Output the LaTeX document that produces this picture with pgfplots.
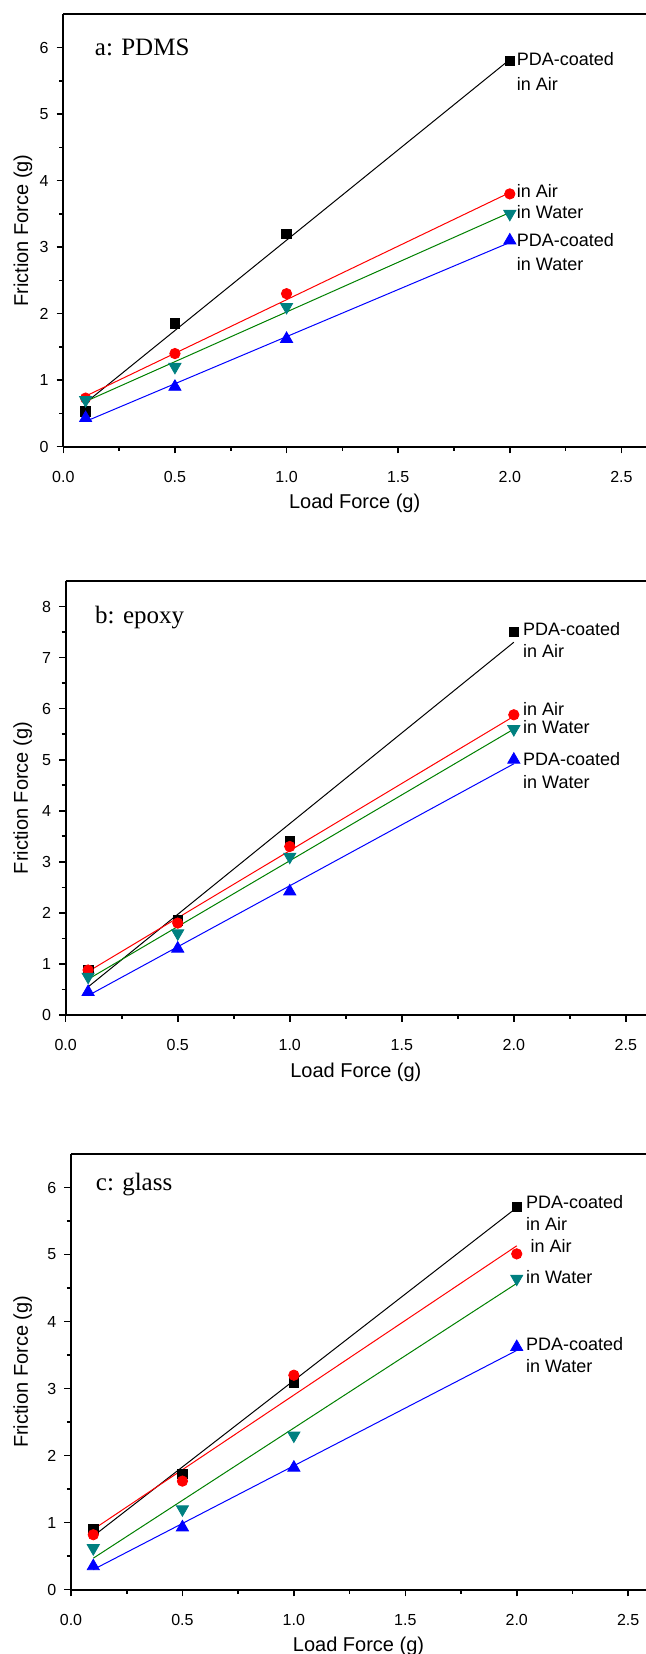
\documentclass[border=0pt]{standalone}
\usepackage{pgfplots}
\pgfplotsset{compat=1.18}
\usepackage{fontspec}
\setmainfont{Liberation Sans}
\newfontfamily\timesf{Liberation Serif}
\definecolor{dkcyan}{RGB}{0,128,128}
\definecolor{fitgreen}{RGB}{0,128,0}

\pgfplotsset{
  panel/.style={
    scale only axis,
    anchor=south west,
    xmin=0, ymin=0,
    axis x line*=bottom,
    axis y line*=left,
    axis line style={line width=1pt,-},
    tick align=outside,
    major tick length=3.3pt,
    minor tick length=2pt,
    every tick/.style={black, line width=0.8pt},
    xtick={0,0.5,...,2.5},
    minor x tick num=1,
    minor y tick num=1,
    x tick label style={/pgf/number format/fixed, /pgf/number format/fixed zerofill,
                        /pgf/number format/precision=1, yshift=-5.5pt},
    y tick label style={xshift=-0.5pt},
    tick label style={font=\fontsize{8}{9}\selectfont},
    /pgf/number format/assume math mode=true,
    label style={font=\fontsize{10}{12}\selectfont},
    xlabel={Load Force (g)},
    ylabel={Friction Force (g)},
    every axis x label/.style={at={([yshift=-28.5pt]axis description cs:0.5,0)}, anchor=center},
    clip=false,
  },
  ylab/.style={every axis y label/.style={at={([xshift=-#1]axis description cs:0,0.5)},
               rotate=90, anchor=base}},
  fit/.style={no marks, line width=0.5pt},
  sq/.style={only marks, mark=square*, mark size=2.4pt, black},
  ci/.style={only marks, mark=*, mark size=2.6pt, red},
  dn/.style={only marks, mark=triangle*, mark size=3.5pt, dkcyan, mark options={rotate=180}},
  up/.style={only marks, mark=triangle*, mark size=3.5pt, blue},
}
\tikzset{
  ann/.style={anchor=west, inner sep=0pt, font=\fontsize{9}{11}\selectfont},
  ttl/.style={anchor=base west, inner sep=0pt, font=\timesf\fontsize{12.5}{14}\selectfont},
}

\begin{document}
\begin{tikzpicture}
\path[use as bounding box] (0,0) rectangle (323pt,827pt);

% a: PDMS
\begin{axis}[panel, ylab=17.6pt, at={(31.65pt,603.65pt)}, width=291.35pt, height=216.2pt,
  xmax=2.61, ymax=6.5, ytick={0,...,6}]
\addplot[fit, black] coordinates {(0.1,0.66) (2.0,5.82)};
\addplot[fit, red] coordinates {(0.1,0.76) (2.0,3.82)};
\addplot[fit, fitgreen] coordinates {(0.1,0.68) (2.0,3.52)};
\addplot[fit, blue] coordinates {(0.1,0.38) (2.0,3.07)};
\addplot[sq] coordinates {(0.1,0.53) (0.5,1.85) (1.0,3.2) (2.0,5.8)};
\addplot[ci] coordinates {(0.1,0.73) (0.5,1.4) (1.0,2.3) (2.0,3.8)};
\addplot[dn] coordinates {(0.1,0.7) (0.5,1.2) (1.0,2.1) (2.0,3.5)};
\addplot[up] coordinates {(0.1,0.43) (0.5,0.9) (1.0,1.62) (2.0,3.1)};
\draw[line width=1pt] (rel axis cs:0,1) -- (rel axis cs:1,1);
\node[ttl] at (axis cs:0.14,5.88) {a: PDMS};
\node[ann] at (axis cs:2.03,5.83) {PDA-coated};
\node[ann] at (axis cs:2.03,5.45) {in Air};
\node[ann] at (axis cs:2.03,3.84) {in Air};
\node[ann] at (axis cs:2.03,3.52) {in Water};
\node[ann] at (axis cs:2.03,3.10) {PDA-coated};
\node[ann] at (axis cs:2.03,2.74) {in Water};
\end{axis}

% b: epoxy
\begin{axis}[panel, ylab=18.9pt, at={(32.85pt,319.5pt)}, width=290.15pt, height=217pt,
  xmax=2.59, ymax=8.5, ytick={0,...,8}]
\addplot[fit, black] coordinates {(0.1,0.55) (2.0,7.3)};
\addplot[fit, red] coordinates {(0.1,0.85) (2.0,5.85)};
\addplot[fit, fitgreen] coordinates {(0.1,0.7) (2.0,5.6)};
\addplot[fit, blue] coordinates {(0.1,0.38) (2.0,4.92)};
\addplot[sq] coordinates {(0.1,0.88) (0.5,1.85) (1.0,3.4) (2.0,7.5)};
\addplot[ci] coordinates {(0.1,0.88) (0.5,1.8) (1.0,3.3) (2.0,5.88)};
\addplot[dn] coordinates {(0.1,0.75) (0.5,1.6) (1.0,3.1) (2.0,5.6)};
\addplot[up] coordinates {(0.1,0.45) (0.5,1.3) (1.0,2.42) (2.0,5.0)};
\draw[line width=1pt] (rel axis cs:0,1) -- (rel axis cs:1,1);
\node[ttl] at (axis cs:0.13,7.67) {b: epoxy};
\node[ann] at (axis cs:2.04,7.56) {PDA-coated};
\node[ann] at (axis cs:2.04,7.12) {in Air};
\node[ann] at (axis cs:2.04,6.00) {in Air};
\node[ann] at (axis cs:2.04,5.64) {in Water};
\node[ann] at (axis cs:2.04,5.01) {PDA-coated};
\node[ann] at (axis cs:2.04,4.57) {in Water};
\end{axis}

% c: glass
\begin{axis}[panel, ylab=21.5pt, at={(35.5pt,32.15pt)}, width=287.5pt, height=217.85pt,
  xmax=2.58, ymax=6.5, ytick={0,...,6}]
\addplot[fit, black] coordinates {(0.1,0.8) (2.0,5.7)};
\addplot[fit, red] coordinates {(0.1,0.9) (2.0,5.13)};
\addplot[fit, fitgreen] coordinates {(0.1,0.47) (2.0,4.57)};
\addplot[fit, blue] coordinates {(0.1,0.3) (2.0,3.57)};
\addplot[sq] coordinates {(0.1,0.9) (0.5,1.73) (1.0,3.09) (2.0,5.71)};
\addplot[ci] coordinates {(0.1,0.82) (0.5,1.62) (1.0,3.2) (2.0,5.01)};
\addplot[dn] coordinates {(0.1,0.62) (0.5,1.2) (1.0,2.3) (2.0,4.64)};
\addplot[up] coordinates {(0.1,0.35) (0.5,0.93) (1.0,1.82) (2.0,3.62)};
\draw[line width=1pt] (rel axis cs:0,1) -- (rel axis cs:1,1);
\node[ttl] at (axis cs:0.11,5.96) {c: glass};
\node[ann] at (axis cs:2.04,5.79) {PDA-coated};
\node[ann] at (axis cs:2.04,5.46) {in Air};
\node[ann] at (axis cs:2.06,5.13) {in Air};
\node[ann] at (axis cs:2.04,4.67) {in Water};
\node[ann] at (axis cs:2.04,3.67) {PDA-coated};
\node[ann] at (axis cs:2.04,3.34) {in Water};
\end{axis}
\end{tikzpicture}
\end{document}
